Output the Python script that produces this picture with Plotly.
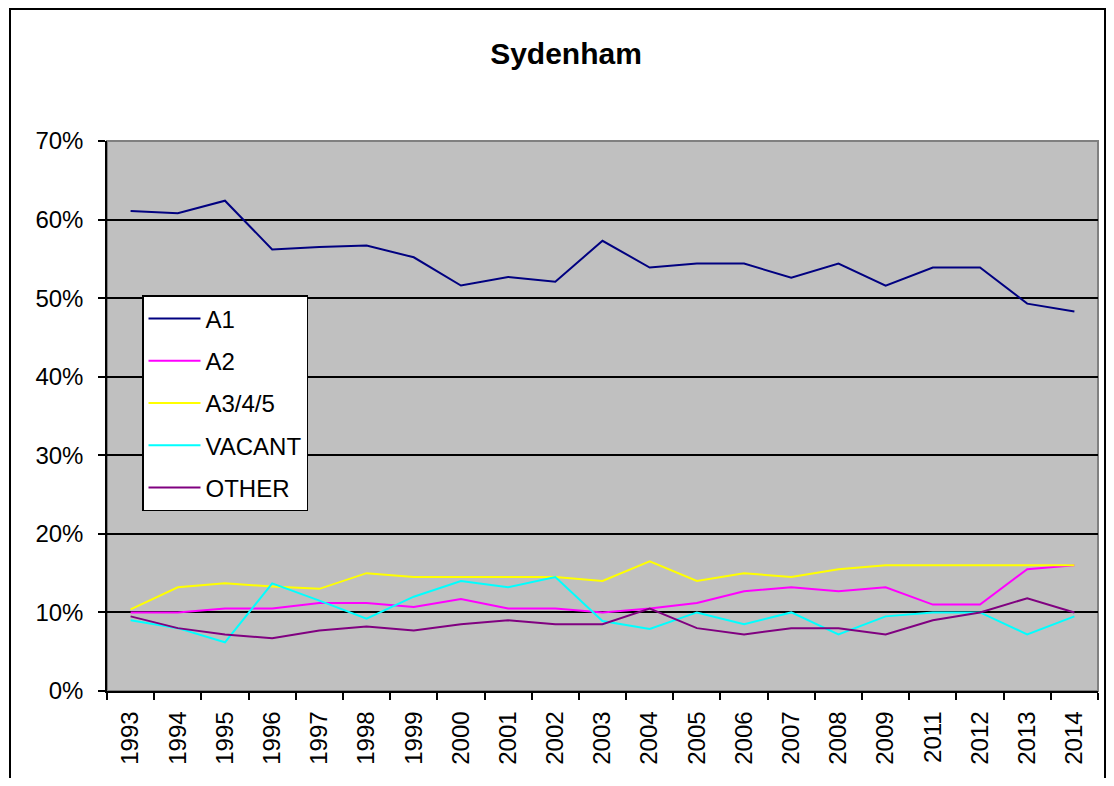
import plotly.graph_objects as go

years = ["1993", "1994", "1995", "1996", "1997", "1998", "1999", "2000", "2001", "2002",
         "2003", "2004", "2005", "2006", "2007", "2008", "2009", "2011", "2012", "2013", "2014"]

a1 = [61.1, 60.8, 62.4, 56.2, 56.5, 56.7, 55.2, 51.6, 52.7, 52.1,
      57.3, 53.9, 54.4, 54.4, 52.6, 54.4, 51.6, 53.9, 53.9, 49.3, 48.3]
a2 = [10.0, 10.0, 10.5, 10.5, 11.2, 11.2, 10.7, 11.7, 10.5, 10.5,
      10.0, 10.5, 11.2, 12.7, 13.2, 12.7, 13.2, 11.0, 11.0, 15.5, 16.0]
a345 = [10.4, 13.2, 13.7, 13.3, 13.0, 15.0, 14.5, 14.5, 14.5, 14.5,
        14.0, 16.5, 14.0, 15.0, 14.5, 15.5, 16.0, 16.0, 16.0, 16.0, 16.0]
vacant = [9.0, 8.0, 6.2, 13.7, 11.5, 9.2, 12.0, 14.0, 13.2, 14.5,
          8.9, 7.9, 10.0, 8.5, 10.0, 7.2, 9.5, 10.0, 10.0, 7.2, 9.5]
other = [9.5, 8.0, 7.2, 6.7, 7.7, 8.2, 7.7, 8.5, 9.0, 8.5,
         8.5, 10.5, 8.0, 7.2, 8.0, 8.0, 7.2, 9.0, 10.0, 11.8, 10.0]

series = [
    ("A1", a1, "#000080"),
    ("A2", a2, "#FF00FF"),
    ("A3/4/5", a345, "#FFFF00"),
    ("VACANT", vacant, "#00FFFF"),
    ("OTHER", other, "#800080"),
]

FONT = "Liberation Sans, Arial, sans-serif"

fig = go.Figure()
for name, vals, color in series:
    fig.add_trace(go.Scatter(
        x=years, y=vals, name=name, mode="lines",
        line=dict(color=color, width=2),
        legendgroup=name,
    ))

# page has an 8px body margin; figure coordinates = page - 8
OFF = 8
W, H = 1098, 770
L, R, T, B = 107 - OFF, 8, 141 - OFF, 87
pw = W - L - R
ph = H - T - B


def px_x(page_x):
    return (page_x - OFF - L) / pw


def px_y(page_y):
    return (H - B - (page_y - OFF)) / ph


fig.update_layout(
    width=W, height=H,
    margin=dict(l=L, r=R, t=T, b=B, pad=0),
    paper_bgcolor="white",
    plot_bgcolor="#C0C0C0",
    font=dict(family=FONT, size=24, color="black"),
    title=dict(text="<b>Sydenham</b>", x=(566 - OFF) / W, xref="container", xanchor="center",
               y=1 - (53 - OFF) / H, yref="container", yanchor="middle",
               font=dict(family=FONT, size=30, color="black")),
    showlegend=True,
    legend=dict(
        x=px_x(142), y=px_y(295), xanchor="left", yanchor="top",
        xref="paper", yref="paper",
        bgcolor="white", bordercolor="black", borderwidth=1.5,
        font=dict(family=FONT, size=24, color="black"),
        tracegroupgap=8, traceorder="grouped",
        itemwidth=52,
        entrywidth=169, entrywidthmode="pixels",
    ),
    xaxis=dict(
        type="category", range=[-0.5, len(years) - 0.5],
        showgrid=False, showline=True, linecolor="black", linewidth=1.5,
        ticks="outside", ticklen=7, tickcolor="black", tickwidth=1.5,
        tickson="boundaries", tickangle=-90, ticklabelstandoff=9,
        tickfont=dict(family=FONT, size=24, color="black"),
        zeroline=False, mirror=False,
    ),
    yaxis=dict(
        range=[0, 70], dtick=10, ticksuffix="%",
        showgrid=True, gridcolor="black", gridwidth=1.5,
        showline=True, linecolor="black", linewidth=1.5,
        ticks="outside", ticklen=7, tickcolor="black", tickwidth=1.5,
        ticklabelstandoff=10,
        tickfont=dict(family=FONT, size=24, color="black"),
        zeroline=False,
    ),
)

# plot-area outline (grey top/right edges)
fig.add_shape(type="rect", xref="paper", yref="paper", x0=0, x1=1, y0=0, y1=1,
              line=dict(color="#808080", width=2), layer="below")
# outer chart border
fig.add_shape(type="rect", xref="paper", yref="paper",
              x0=px_x(10), x1=px_x(1105),
              y0=px_y(820), y1=px_y(9),
              line=dict(color="black", width=2))

fig.write_html("out.html")
